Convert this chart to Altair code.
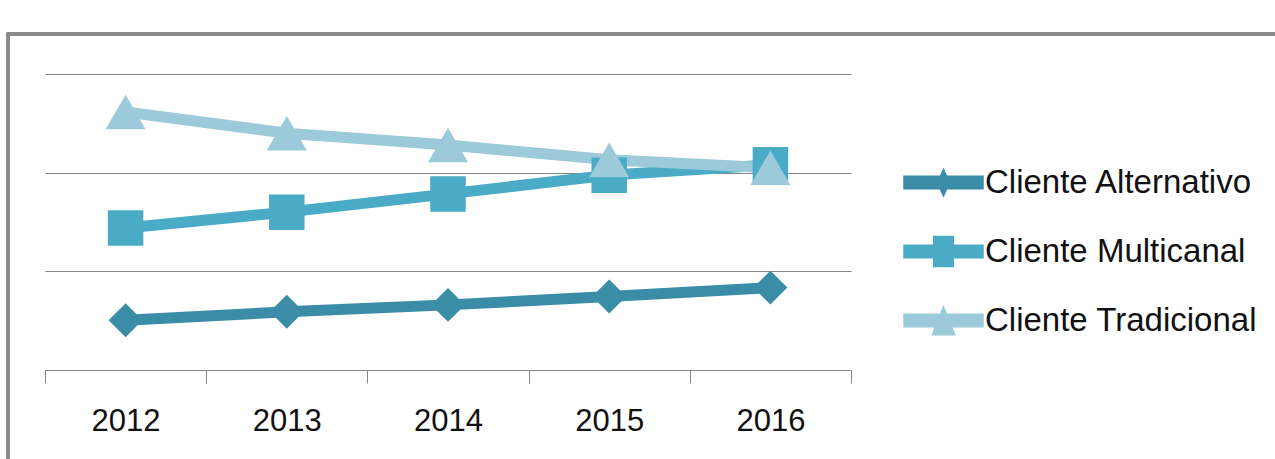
import altair as alt
import pandas as pd

years = ["2012", "2013", "2014", "2015", "2016"]
series = ["Cliente Alternativo", "Cliente Multicanal", "Cliente Tradicional"]
alternativo = [10.1, 11.8, 13.2, 14.9, 16.7]
multicanal = [28.8, 32.0, 35.7, 39.5, 41.6]
tradicional = [52.3, 48.0, 45.6, 42.6, 41.0]
colors = ["#3b8ca7", "#4aabc6", "#9ccadb"]

rows = []
for s, vals in zip(series, [alternativo, multicanal, tradicional]):
    for y, v in zip(years, vals):
        rows.append({"year": y, "serie": s, "value": v})
df = pd.DataFrame(rows)

legend_paths = [
    "M-2.3,-0.4L2.3,-0.4L2.3,0.4L-2.3,0.4Z M0,-0.85L0.4,0L0,0.85L-0.4,0Z",
    "M-2.3,-0.4L2.3,-0.4L2.3,0.4L-2.3,0.4Z M-0.6,-0.9L0.6,-0.9L0.6,0.9L-0.6,0.9Z",
    "M-2.3,-0.4L2.3,-0.4L2.3,0.4L-2.3,0.4Z M0,-0.9L0.7,0.85L-0.7,0.85Z",
]

x_enc = alt.X(
    "year:N",
    sort=years,
    scale=alt.Scale(paddingInner=0, paddingOuter=0),
    axis=alt.Axis(
        title=None,
        labelAngle=0,
        labelFont="Liberation Sans",
        labelFontSize=31,
        labelColor="#111111",
        labelPadding=23,
        tickBand="extent",
        tickSize=13,
        tickColor="#888888",
        domainColor="#888888",
        grid=False,
    ),
)
y_enc = alt.Y(
    "value:Q",
    scale=alt.Scale(domain=[0, 60], nice=False),
    axis=alt.Axis(
        title=None,
        values=[0, 20, 40, 60],
        labels=False,
        ticks=False,
        domain=False,
        grid=True,
        gridColor="#868686",
        gridWidth=1.2,
    ),
)
color_scale = alt.Scale(domain=series, range=colors)

legend_props = dict(
    title=None,
    orient="none",
    legendX=881,
    legendY=91,
    labelFont="Liberation Sans",
    labelFontSize=33,
    labelColor="#111111",
    labelOffset=24,
    labelLimit=400,
    rowPadding=34,
    symbolSize=1225,
    symbolStrokeWidth=0,
    symbolOpacity=1,
    padding=0,
)

base = alt.Chart(df)

frame = base.mark_rect(
    fill=None, stroke="#8a8a8a", strokeWidth=2.5
).encode(
    x=alt.value(-37), x2=alt.value(1300), y=alt.value(-40), y2=alt.value(500)
)

legend_layer = (
    base.transform_filter("datum.year == 'none'")
    .mark_point(filled=True, opacity=1, strokeWidth=0, size=1225)
    .encode(
        x=x_enc,
        y=y_enc,
        color=alt.Color("serie:N", scale=color_scale, legend=alt.Legend(**legend_props)),
        shape=alt.Shape(
            "serie:N",
            scale=alt.Scale(domain=series, range=legend_paths),
            legend=alt.Legend(**legend_props),
        ),
    )
)

lines = base.mark_line(strokeWidth=11).encode(
    x=alt.X("year:N", sort=years),
    y="value:Q",
    color=alt.Color("serie:N", scale=color_scale),
    detail="serie:N",
)

shapes = ["diamond", "square", "triangle-up"]
sizes = [1150, 1260, 1600]
point_layers = []
for s, shp, sz in zip(series, shapes, sizes):
    point_layers.append(
        base.transform_filter(alt.datum.serie == s)
        .mark_point(filled=True, opacity=1, strokeWidth=0, shape=shp, size=sz)
        .encode(
            x=alt.X("year:N", sort=years),
            y="value:Q",
            color=alt.Color("serie:N", scale=color_scale),
        )
    )

chart = (
    alt.layer(frame, legend_layer, lines, *point_layers)
    .properties(
        width=806,
        height=296,
        autosize=alt.AutoSizeParams(type="none"),
        padding={"left": 45, "top": 74, "right": 424, "bottom": 89},
        background="white",
    )
    .configure_view(stroke=None)
)

chart.save("out.html", embed_options={"renderer": "svg", "actions": False})
